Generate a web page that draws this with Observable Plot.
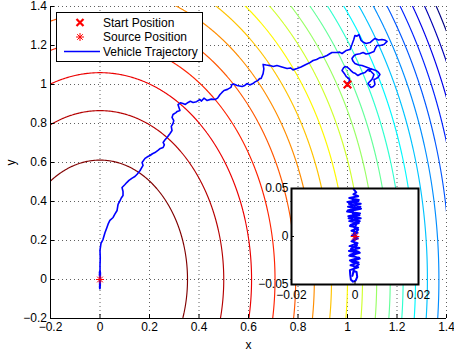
<!DOCTYPE html>
<html><head><meta charset="utf-8">
<script src="https://cdn.jsdelivr.net/npm/d3@7"></script>
<script src="https://cdn.jsdelivr.net/npm/@observablehq/plot@0.6"></script>
<style>
body{margin:0;background:#fff;font-family:"Liberation Sans",Arial,sans-serif;}
#wrap{position:relative;width:454px;height:354px;overflow:hidden;}
#inset{position:absolute;left:251px;top:183px;}
#legend{position:absolute;left:56px;top:12px;}
</style></head><body><div id="wrap"><div id="main"></div><div id="inset"></div><div id="legend"></div></div>
<script>
const xTicks = [-0.2, 0, 0.2, 0.4, 0.6, 0.8, 1, 1.2, 1.4];
const xTickLabels = ["−0.2", "0", "0.2", "0.4", "0.6", "0.8", "1", "1.2", "1.4"];
const yTicks = [-0.2, 0, 0.2, 0.4, 0.6, 0.8, 1, 1.2, 1.4];
const yTickLabels = ["−0.2", "0", "0.2", "0.4", "0.6", "0.8", "1", "1.2", "1.4"];
const insetXTicks = [-0.02, 0, 0.02];
const insetXTickLabels = ["−0.02", "0", "0.02"];
const insetYTicks = [-0.05, 0, 0.05];
const insetYTickLabels = ["−0.05", "0", "0.05"];
const contourLevels = [0.125, 0.25, 0.375, 0.5, 0.625, 0.75, 0.875, 1, 1.125, 1.25, 1.375, 1.5, 1.625, 1.75, 1.875, 2, 2.125, 2.25, 2.375, 2.5];
const legendLabels = ["Start Position", "Source Position", "Vehicle Trajectory"];
const startPosition = [[1.0, 1.0]];
const sourcePosition = [[0, 0]];
const trajectory = [
 [1.000,1.000],[1.008,1.018],[1.006,1.031],[0.995,1.040],[0.990,1.051],[0.978,1.072],[0.984,1.085],[0.990,1.092],[1.000,1.088],[1.006,1.082],
 [1.015,1.070],[1.022,1.062],[1.030,1.058],[1.042,1.046],[1.055,1.055],[1.071,1.062],[1.082,1.075],[1.095,1.080],[1.088,1.068],[1.091,1.072],
 [1.107,1.051],[1.103,1.038],[1.099,1.026],[1.090,1.015],[1.083,1.005],[1.090,0.992],[1.095,0.985],[1.104,0.990],[1.111,1.000],[1.107,1.026],
 [1.115,1.030],[1.123,1.036],[1.131,1.051],[1.125,1.062],[1.115,1.072],[1.091,1.082],[1.075,1.090],[1.059,1.097],[1.045,1.100],[1.030,1.108],
 [1.022,1.120],[1.018,1.133],[1.026,1.147],[1.034,1.154],[1.050,1.158],[1.063,1.164],[1.075,1.156],[1.087,1.159],[1.107,1.169],[1.112,1.185],
 [1.119,1.200],[1.133,1.200],[1.147,1.205],[1.160,1.221],[1.150,1.228],[1.139,1.231],[1.125,1.228],[1.111,1.236],[1.100,1.225],[1.091,1.215],
 [1.075,1.210],[1.062,1.218],[1.055,1.226],[1.046,1.256],[1.038,1.248],[1.030,1.251],[1.025,1.230],[1.018,1.205],[1.010,1.179],[0.994,1.174],
 [0.978,1.159],[0.968,1.166],[0.958,1.164],[0.937,1.164],[0.925,1.155],[0.917,1.149],[0.900,1.140],[0.889,1.138],[0.875,1.128],[0.861,1.123],
 [0.845,1.110],[0.832,1.103],[0.812,1.090],[0.796,1.082],[0.780,1.075],[0.770,1.085],[0.756,1.082],[0.735,1.090],[0.715,1.097],[0.700,1.092],
 [0.687,1.097],[0.672,1.100],[0.659,1.103],[0.662,1.080],[0.659,1.056],[0.651,1.031],[0.645,1.030],[0.638,1.021],[0.625,1.012],[0.618,1.005],
 [0.605,0.998],[0.594,1.005],[0.585,0.995],[0.574,0.990],[0.554,0.995],[0.540,1.003],[0.533,1.000],[0.529,0.985],[0.515,0.975],[0.501,0.969],
 [0.492,0.958],[0.485,0.949],[0.475,0.930],[0.465,0.923],[0.450,0.925],[0.432,0.918],[0.420,0.930],[0.410,0.915],[0.404,0.923],[0.390,0.912],
 [0.376,0.908],[0.365,0.914],[0.356,0.908],[0.345,0.898],[0.335,0.903],[0.325,0.906],[0.315,0.897],[0.319,0.882],[0.323,0.867],[0.312,0.862],
 [0.307,0.856],[0.295,0.846],[0.291,0.831],[0.298,0.815],[0.295,0.800],[0.288,0.785],[0.291,0.764],[0.283,0.749],[0.271,0.728],[0.262,0.715],
 [0.255,0.703],[0.260,0.690],[0.255,0.677],[0.244,0.672],[0.234,0.662],[0.222,0.651],[0.212,0.645],[0.202,0.636],[0.190,0.628],[0.182,0.621],
 [0.170,0.600],[0.174,0.585],[0.168,0.572],[0.162,0.559],[0.150,0.540],[0.141,0.528],[0.130,0.520],[0.117,0.508],[0.108,0.497],[0.101,0.487],
 [0.089,0.472],[0.093,0.451],[0.093,0.431],[0.086,0.418],[0.081,0.405],[0.073,0.385],[0.069,0.354],[0.060,0.335],[0.053,0.318],[0.040,0.303],
 [0.033,0.285],[0.028,0.267],[0.020,0.240],[0.012,0.205],[0.004,0.185],[0.000,0.149],[0.001,0.110],[0.000,0.072]
];
const insetTrajectory = [
 [0.0003,0.052],[-0.0004,0.049],[0.0004,0.046],[-0.0005,0.044],[0.0010,0.042],[-0.0018,0.040],[0.0012,0.038],[-0.0024,0.036],
 [0.0018,0.034],[-0.0022,0.031],[0.0019,0.029],[-0.0025,0.026],[0.0016,0.024],[-0.0021,0.021],[0.0018,0.019],[-0.0018,0.016],
 [0.0012,0.014],[-0.0016,0.011],[0.0010,0.009],[-0.0011,0.006],[0.0008,0.004],[-0.0010,0.001],[0.0009,-0.002],[-0.0011,-0.005],
 [0.0008,-0.007],[-0.0017,-0.010],[0.0014,-0.012],[-0.0019,-0.015],[0.0015,-0.017],[-0.0018,-0.020],[0.0013,-0.022],[-0.0016,-0.025],
 [0.0011,-0.027],[-0.0014,-0.030],[0.0010,-0.032],[-0.0016,-0.035],[-0.0015,-0.040],[-0.0013,-0.045],[-0.0006,-0.047],[0.0002,-0.046],
 [0.0007,-0.042],[0.0005,-0.037],[-0.0004,-0.036],[-0.0008,-0.041],[-0.0003,-0.033],[0.0012,-0.029],[-0.0012,-0.026],[0.0015,-0.023],
 [-0.0015,-0.019],[0.0012,-0.016],[-0.0013,-0.013],[0.0006,-0.009],[-0.0007,-0.004],[0.0005,0.000],[-0.0004,0.003],[0.0010,0.007],
 [-0.0014,0.012],[0.0015,0.016],[-0.0020,0.019],[0.0014,0.022],[-0.0023,0.027],[0.0017,0.031],[-0.0019,0.034],[0.0011,0.037],
 [-0.0012,0.040],[0.0004,0.036],[-0.0008,0.025],[0.0006,0.015],[-0.0003,0.006],[0.0001,0.000]
];

function jet(t) {
  const c = v => Math.round(255 * Math.max(0, Math.min(1, v)));
  return `rgb(${c(Math.min(4*t-1.5, -4*t+4.5))},${c(Math.min(4*t-0.5, -4*t+3.5))},${c(Math.min(4*t+0.5, -4*t+2.5))})`;
}
const FONT = '"Liberation Sans", Arial, Helvetica, sans-serif';
const BLUE = "#0000ff", RED = "#ff0000";
const fullPath = trajectory.concat(insetTrajectory);
const field = (x, y) => x * x + y * y / 3;

const main = Plot.plot({
  width: 454, height: 354,
  marginLeft: 50, marginRight: 8, marginTop: 6, marginBottom: 36,
  style: {fontFamily: FONT, fontSize: "12px", background: "white", color: "black"},
  x: {domain: [xTicks[0], xTicks[xTicks.length-1]]},
  y: {domain: [yTicks[0], yTicks[yTicks.length-1]]},
  color: {type: "linear", domain: [contourLevels[0], contourLevels[contourLevels.length-1]], interpolate: t => jet(1 - t)},
  marks: [
    Plot.gridX(xTicks, {stroke: "#444", strokeOpacity: 0.85, strokeDasharray: "1,3"}),
    Plot.gridY(yTicks, {stroke: "#444", strokeOpacity: 0.85, strokeDasharray: "1,3"}),
    Plot.contour({x1: -0.6, x2: 1.8, y1: -0.6, y2: 1.8, value: field, thresholds: contourLevels,
      stroke: "value", fill: "none", strokeWidth: 1.15, pixelSize: 1, clip: true}),
    Plot.line(fullPath, {x: d => d[0], y: d => d[1], stroke: BLUE, strokeWidth: 1.6, curve: "linear"}),
    Plot.dot(startPosition, {x: d => d[0], y: d => d[1], symbol: "times", r: 3.5, stroke: RED, strokeWidth: 2.2}),
    Plot.dot(sourcePosition, {x: d => d[0], y: d => d[1], symbol: "plus", r: 2.7, stroke: RED, strokeWidth: 1}),
    Plot.dot(sourcePosition, {x: d => d[0], y: d => d[1], symbol: "times", r: 2.7, stroke: RED, strokeWidth: 1}),
    Plot.ruleX([xTicks[0]], {stroke: "black", strokeWidth: 1}),
    Plot.ruleY([yTicks[0]], {stroke: "black", strokeWidth: 1}),
    Plot.axisX(xTicks, {tickSize: -4, tickPadding: 8, tickFormat: (d, i) => xTickLabels[i],
      label: "x", labelAnchor: "center", labelArrow: "none", labelOffset: 30}),
    Plot.axisY(yTicks, {tickSize: -4, tickPadding: 7.5, tickFormat: (d, i) => yTickLabels[i],
      label: "y", labelAnchor: "center", labelArrow: "none", labelOffset: 44})
  ]
});
document.getElementById("main").appendChild(main);

const inset = Plot.plot({
  width: 177, height: 121,
  marginLeft: 40, marginRight: 10, marginTop: 5, marginBottom: 20,
  style: {fontFamily: FONT, fontSize: "12px", background: "none", overflow: "visible", color: "black"},
  x: {domain: [insetXTicks[0], insetXTicks[insetXTicks.length-1]]},
  y: {domain: [insetYTicks[0], insetYTicks[insetYTicks.length-1]]},
  marks: [
    Plot.frame({fill: "white", stroke: "none"}),
    Plot.line(fullPath, {x: d => d[0], y: d => d[1], stroke: BLUE, strokeWidth: 2, clip: true}),
    Plot.dot(sourcePosition, {x: d => d[0], y: d => d[1], symbol: "plus", r: 2.9, stroke: RED, strokeWidth: 1}),
    Plot.dot(sourcePosition, {x: d => d[0], y: d => d[1], symbol: "times", r: 2.9, stroke: RED, strokeWidth: 1}),
    Plot.frame({stroke: "black", strokeWidth: 2}),
    Plot.axisX(insetXTicks, {tickSize: -3, tickPadding: 9, tickFormat: (d, i) => insetXTickLabels[i], label: null}),
    Plot.axisY(insetYTicks, {tickSize: -3, tickPadding: 6, tickFormat: (d, i) => insetYTickLabels[i], label: null})
  ]
});
document.getElementById("inset").appendChild(inset);

// legend
const ns = "http://www.w3.org/2000/svg";
const lg = document.createElementNS(ns, "svg");
lg.setAttribute("width", 148); lg.setAttribute("height", 51);
lg.style.fontFamily = FONT; lg.style.fontSize = "12px";
let html = `<rect x="0.5" y="0.5" width="146" height="49" fill="white" stroke="black" stroke-width="1"/>`;
const rowY = [10.5, 25, 39.5];
html += `<path d="M20.5,7 l7,7 M27.5,7 l-7,7" stroke="${RED}" stroke-width="2.2"/>`;
html += `<path d="M24,21 v8 M20,25 h8 M21.2,22.2 l5.6,5.6 M26.8,22.2 l-5.6,5.6" stroke="${RED}" stroke-width="1"/>`;
html += `<path d="M8,39.5 H44" stroke="${BLUE}" stroke-width="1.3"/>`;
legendLabels.forEach((t, i) => {
  html += `<text x="47" y="${rowY[i]}" dy="0.35em" fill="black">${t}</text>`;
});
lg.innerHTML = html;
document.getElementById("legend").appendChild(lg);
</script></body></html>
